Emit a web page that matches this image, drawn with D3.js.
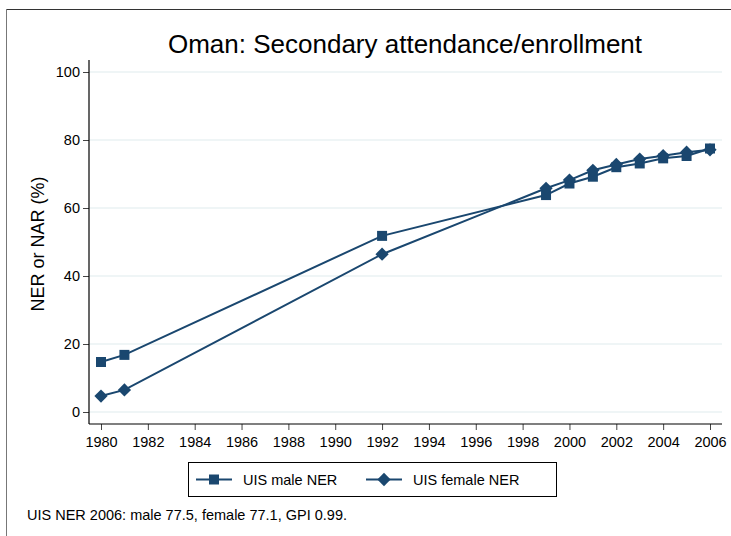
<!DOCTYPE html>
<html>
<head>
<meta charset="utf-8">
<script src="https://cdn.jsdelivr.net/npm/d3@7"></script>
<style>
  body { margin: 0; background: #fff; }
  text { font-family: "Liberation Sans", Arial, sans-serif; fill: #000; }
</style>
</head>
<body>
<div id="chart"></div>
<script>
const years = [1980, 1981, 1992, 1999, 2000, 2001, 2002, 2003, 2004, 2005, 2006];
const maleNER = [14.7, 16.8, 51.8, 63.8, 67.2, 69.2, 72.0, 73.1, 74.6, 75.3, 77.5];
const femaleNER = [4.7, 6.5, 46.4, 65.8, 68.2, 71.1, 72.8, 74.4, 75.4, 76.4, 77.1];
const yTicks = [0, 20, 40, 60, 80, 100];
const xTicks = [1980, 1982, 1984, 1986, 1988, 1990, 1992, 1994, 1996, 1998, 2000, 2002, 2004, 2006];
const seriesNames = ["UIS male NER", "UIS female NER"];

const W = 731, H = 536;
const navy = "#1a476f";

const svg = d3.select("#chart").append("svg")
    .attr("width", W)
    .attr("height", H);

// outer frame (only top + left visible in the picture)
svg.append("line").attr("x1", 6).attr("x2", W).attr("y1", 9.5).attr("y2", 9.5)
    .attr("stroke", "#333").attr("stroke-width", 1.2);
svg.append("line").attr("x1", 6.5).attr("x2", 6.5).attr("y1", 9).attr("y2", H)
    .attr("stroke", "#777").attr("stroke-width", 1);

const x = d3.scaleLinear().domain([1980, 2006]).range([101, 710]);
const y = d3.scaleLinear().domain([0, 100]).range([412, 72]);

const plotLeft = 89, plotRight = 722, plotBottom = 424, plotTop = 60;

// gridlines
svg.append("g").selectAll("line")
    .data(yTicks)
    .join("line")
    .attr("x1", plotLeft).attr("x2", plotRight)
    .attr("y1", d => y(d)).attr("y2", d => y(d))
    .attr("stroke", "#eaf2f3").attr("stroke-width", 1.3);

// axes
const yAxis = d3.axisLeft(y).tickValues(yTicks).tickSize(6).tickPadding(3);
const gy = svg.append("g").attr("transform", "translate(" + plotLeft + ",0)").call(yAxis);
gy.select(".domain").remove();
gy.append("line").attr("x1", 0).attr("x2", 0).attr("y1", plotTop).attr("y2", plotBottom)
    .attr("stroke", "#000").attr("stroke-width", 1.2);
gy.selectAll(".tick line").attr("stroke", "#444");
gy.selectAll(".tick text").style("font-size", "14.5px").attr("fill", "#000");

const xAxis = d3.axisBottom(x).tickValues(xTicks).tickFormat(d3.format("d")).tickSize(6).tickPadding(7);
const gx = svg.append("g").attr("transform", "translate(0," + plotBottom + ")").call(xAxis);
gx.select(".domain").remove();
gx.append("line").attr("x1", plotLeft).attr("x2", plotRight).attr("y1", 0).attr("y2", 0)
    .attr("stroke", "#000").attr("stroke-width", 1.2);
gx.selectAll(".tick line").attr("stroke", "#444");
gx.selectAll(".tick text").style("font-size", "14.5px").attr("fill", "#000");

// title
svg.append("text")
    .attr("x", 405).attr("y", 53)
    .attr("text-anchor", "middle")
    .style("font-size", "26px")
    .text("Oman: Secondary attendance/enrollment");

// y axis title
svg.append("text")
    .attr("transform", "translate(44,244) rotate(-90)")
    .attr("text-anchor", "middle")
    .style("font-size", "18px")
    .text("NER or NAR (%)");

const line = d3.line().x(d => x(d[0])).y(d => y(d[1]));
const maleData = years.map((yr, i) => [yr, maleNER[i]]);
const femaleData = years.map((yr, i) => [yr, femaleNER[i]]);

const square = d3.symbol().type(d3.symbolSquare).size(100);
const diamond = d3.symbol().type(d3.symbolSquare).size(88);

function drawSeries(data, sym, rot) {
    svg.append("path")
        .datum(data)
        .attr("d", line)
        .attr("fill", "none")
        .attr("stroke", navy)
        .attr("stroke-width", 2);
    svg.append("g").selectAll("path")
        .data(data)
        .join("path")
        .attr("transform", d => "translate(" + x(d[0]) + "," + y(d[1]) + ") rotate(" + rot + ")")
        .attr("d", sym)
        .attr("fill", navy);
}
drawSeries(maleData, square, 0);
drawSeries(femaleData, diamond, 45);

// legend
const lg = svg.append("g");
lg.append("rect").attr("x", 188.5).attr("y", 462.5).attr("width", 368).attr("height", 34)
    .attr("fill", "#fff").attr("stroke", "#000").attr("stroke-width", 1);
const legendItems = [
    { name: seriesNames[0], sym: square, rot: 0, x0: 196 },
    { name: seriesNames[1], sym: diamond, rot: 45, x0: 366 }
];
legendItems.forEach(it => {
    lg.append("line").attr("x1", it.x0).attr("x2", it.x0 + 36).attr("y1", 479.5).attr("y2", 479.5)
        .attr("stroke", navy).attr("stroke-width", 2);
    lg.append("path").attr("transform", "translate(" + (it.x0 + 18) + ",479.5) rotate(" + it.rot + ")")
        .attr("d", it.sym).attr("fill", navy);
    lg.append("text").attr("x", it.x0 + 47).attr("y", 484.5)
        .style("font-size", "14.5px").text(it.name);
});

// note
svg.append("text")
    .attr("x", 27).attr("y", 520)
    .style("font-size", "14.5px")
    .text("UIS NER 2006: male 77.5, female 77.1, GPI 0.99.");
</script>
</body>
</html>
